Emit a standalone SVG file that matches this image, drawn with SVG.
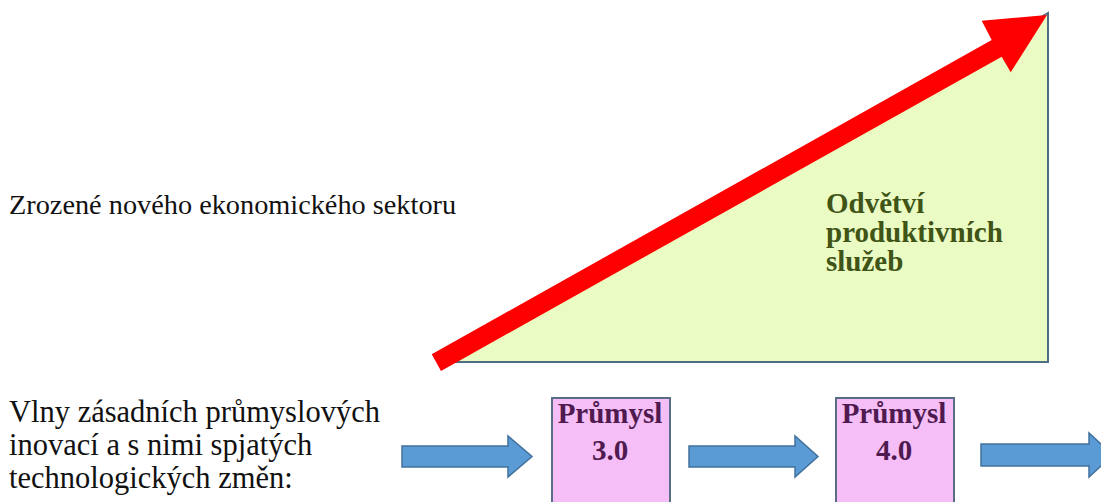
<svg xmlns="http://www.w3.org/2000/svg" width="1101" height="502" viewBox="0 0 1101 502">
<style>
text{font-family:'Liberation Serif',serif;}
.lbl{fill:#111111;}
.grn{font-weight:bold;font-size:29px;fill:#3f5416;}
.box{fill:#f5bef6;stroke:#5b6d85;stroke-width:2;}
.boxt{font-weight:bold;font-size:29px;fill:#4f1a4f;text-anchor:middle;}
.blue{fill:#5b9bd5;stroke:#41719c;stroke-width:1.5;}
</style>
<rect width="1101" height="502" fill="#ffffff"/>
<g id="triangle">
<polygon points="455,362 1048,362 1048,13" fill="#eafcc3" stroke="#4e6f83" stroke-width="2"/>
<text class="grn" x="826" y="213">Odvětví</text>
<text class="grn" x="826" y="242">produktivních</text>
<text class="grn" x="826" y="271">služeb</text>
</g>
<g id="label-top">
<text class="lbl" x="9" y="214" font-size="28.3">Zrozené nového ekonomického sektoru</text>
</g>
<g id="label-bottom">
<text class="lbl" x="9" y="422" font-size="30.5">Vlny zásadních průmyslových</text>
<text class="lbl" x="9" y="455" font-size="30.5">inovací a s nimi spjatých</text>
<text class="lbl" x="9" y="488" font-size="30.5">technologických změn:</text>
</g>
<g id="industry3">
<rect class="box" x="552" y="398" width="118" height="110"/>
<text class="boxt" x="610" y="423">Průmysl</text>
<text class="boxt" x="610" y="460">3.0</text>
</g>
<g id="industry4">
<rect class="box" x="836" y="398" width="118" height="110"/>
<text class="boxt" x="894" y="423">Průmysl</text>
<text class="boxt" x="894" y="460">4.0</text>
</g>
<g id="connectors">
<polygon id="growth-arrow" points="441,371 431.7,354.3 991.7,40 981.7,20.7 1047,15 1010.7,72.3 1001.7,56.7" fill="#ff0000"/>
<polygon class="blue" points="402,446 508,446 508,436 532,456.5 508,477 508,467 402,467"/>
<polygon class="blue" points="689,446 795,446 795,436 818,456.5 795,477 795,467 689,467"/>
<polygon class="blue" points="981,444 1089,444 1089,433 1113,455 1089,477 1089,466 981,466"/>
</g>
</svg>
